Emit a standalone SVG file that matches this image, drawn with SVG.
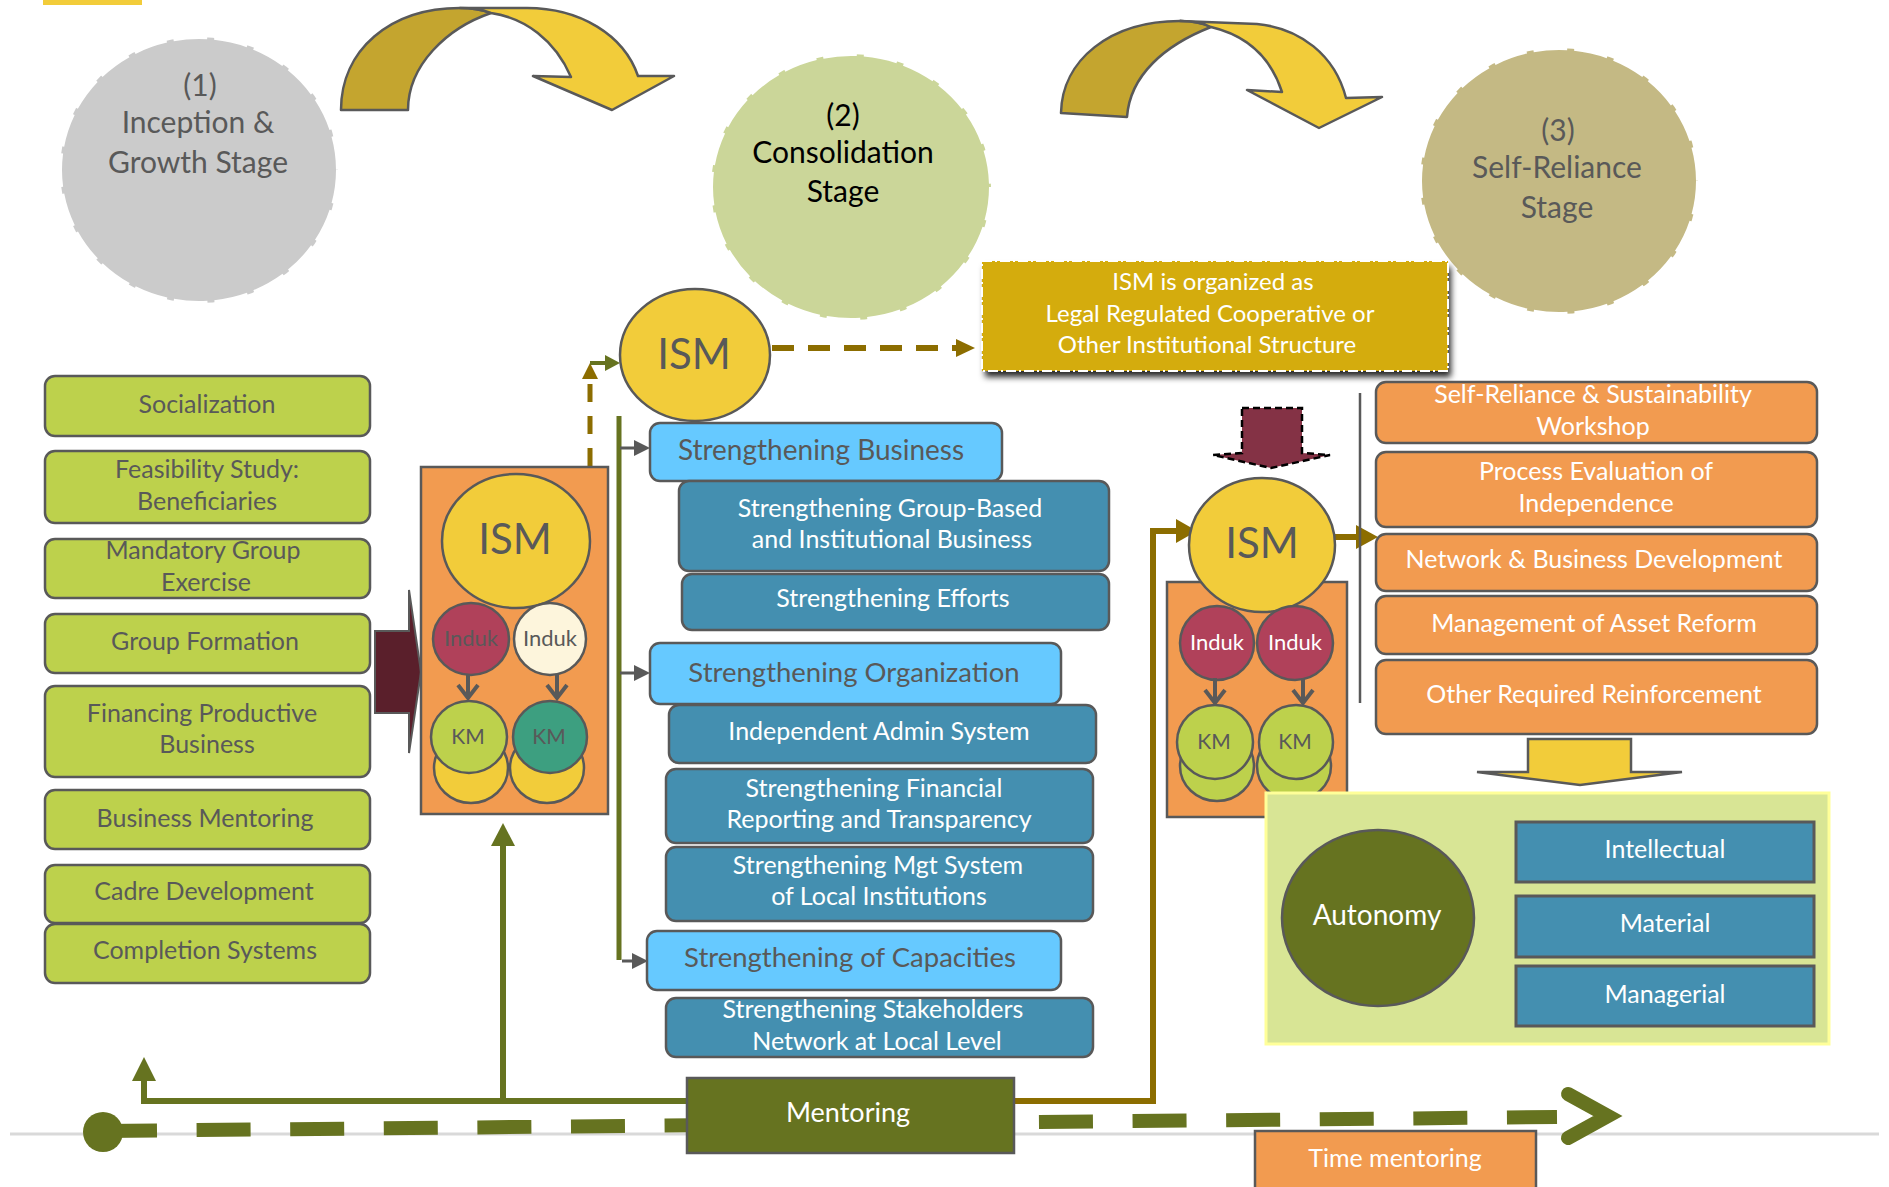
<svg xmlns="http://www.w3.org/2000/svg" width="1889" height="1187" viewBox="0 0 1889 1187">
<defs>
<style>
text{font-family:Lato,"Open Sans","Liberation Sans",sans-serif;text-anchor:middle}
.g{fill:#595959}.w{fill:#fff}.k{fill:#000}
.bx{stroke:#595959;stroke-width:2.5}
.lg{fill:#bdd14c}.db{fill:#448fb0}.lb{fill:#66c9ff}.or{fill:#f29b50}.ye{fill:#f2cc3a}.rs{fill:#b0415a}
.s25{font-size:25px}.s27{font-size:27px}.st{font-size:30px}
.stage{stroke:#fff;stroke-width:4;stroke-dasharray:34 7}
.ol{stroke:#667320;fill:none}
.br{stroke:#8c6d00;fill:none}
.gr{stroke:#595959;fill:none}
</style>
<filter id="sh" x="-10%" y="-10%" width="125%" height="140%">
<feDropShadow dx="3" dy="6" stdDeviation="3" flood-color="#000" flood-opacity="0.85"/>
</filter>
</defs>
<rect width="1889" height="1187" fill="#fff"/>
<rect x="43" y="0" width="99" height="5" fill="#f2cc3a"/>

<!-- connectors -->
<g id="connectors">
<line x1="10" y1="1134" x2="1879" y2="1134" stroke="#d9d9d9" stroke-width="3"/>
<line x1="103" y1="1131" x2="1557" y2="1117" stroke="#667320" stroke-width="14" stroke-dasharray="54 39.6"/>
<polyline points="1568,1094 1608,1116 1568,1138" fill="none" stroke="#667320" stroke-width="14" stroke-linecap="round" stroke-linejoin="miter"/>
<ellipse cx="103" cy="1132" rx="20" ry="20" fill="#667320"/>
<path class="ol" d="M687,1101 H144 V1080" stroke-width="6"/>
<polygon points="132,1081 144,1057 156,1081" fill="#667320"/>
<path class="ol" d="M503,1101 V845" stroke-width="6"/>
<polygon points="491,846 503,823 515,846" fill="#667320"/>
<path class="br" d="M1000,1101 H1153 V531 H1178" stroke-width="6"/>
<polygon points="1176,519 1197,531 1176,543" fill="#8c6d00"/>
<path class="br" d="M1335,537 H1358" stroke-width="6"/>
<polygon points="1356,525 1378,537 1356,549" fill="#8c6d00"/>
<path class="br" d="M590,466 V378" stroke-width="5" stroke-dasharray="18 14"/>
<polygon points="582,379 590,363 598,379" fill="#8c6d00"/>
<path class="ol" d="M590,363 H607" stroke-width="4"/>
<polygon points="605,355 620,363 605,371" fill="#667320"/>
<path class="br" d="M772,348 H958" stroke-width="6" stroke-dasharray="22 14"/>
<polygon points="956,339 975,348 956,357" fill="#8c6d00"/>
<path class="ol" d="M619,416 V960" stroke-width="5"/>
<path class="gr" d="M620,448 H636 M620,673 H636 M622,961 H634" stroke-width="3"/>
<polygon points="634,440 650,448 634,456" fill="#595959"/>
<polygon points="634,665 650,673 634,681" fill="#595959"/>
<polygon points="632,953 648,961 632,969" fill="#595959"/>
<path class="gr" d="M1360,393 V703" stroke-width="2.5"/>
<path class="gr" d="M1495,842 H1479 V1021 H1495 M1479,924 H1495" stroke-width="3"/>
<polygon points="1493,834 1511,842 1493,850" fill="#595959"/>
<polygon points="1493,916 1511,924 1493,932" fill="#595959"/>
<polygon points="1493,1012 1511,1020 1493,1028" fill="#595959"/>
</g>

<!-- curved arrows -->
<g id="curve1" stroke="#595959" stroke-width="2.5" stroke-linejoin="round">
<path d="M341,110 C341,50 390,8 460,8 C472,8 483,10 491,13 C447,28 408,65 408,110 Z" fill="#c4a52f"/>
<path d="M460,8 L527,8 C580,8 624,35 638,76 L674,76 L612,110 L533,76 L571,77 C555,40 525,18 491,13 C483,10 472,8 460,8 Z" fill="#f2cc3a"/>
</g>
<g id="curve2" stroke="#595959" stroke-width="2.5" stroke-linejoin="round">
<path d="M1061,113 C1062,60 1110,21 1180,21 C1193,21 1203,23 1211,27 C1165,45 1130,75 1127,117 Z" fill="#c4a52f"/>
<path d="M1180,21 L1257,24 C1300,28 1335,55 1346,98 L1382,97 L1319,128 L1247,90 L1282,92 C1270,55 1245,35 1211,27 C1203,23 1193,21 1180,21 Z" fill="#f2cc3a"/>
</g>

<!-- stage circles -->
<g id="stage1">
<ellipse cx="199" cy="170" rx="139" ry="133" fill="#cbcbcb" class="stage"/>
<text x="200" y="96" class="g st">(1)</text>
<text x="198" y="133" class="g st">Inception &amp;</text>
<text x="198" y="173" class="g st">Growth Stage</text>
</g>
<g id="stage2">
<ellipse cx="851" cy="187" rx="140" ry="133" fill="#cbd699" class="stage"/>
<text x="843" y="126" class="k st">(2)</text>
<text x="843" y="163" class="k st">Consolidation</text>
<text x="843" y="202" class="k st">Stage</text>
</g>
<g id="stage3">
<ellipse cx="1559" cy="181" rx="139" ry="133" fill="#c4b984" class="stage"/>
<text x="1558" y="141" class="g st">(3)</text>
<text x="1557" y="178" class="g st">Self-Reliance</text>
<text x="1557" y="218" class="g st">Stage</text>
</g>

<!-- legal box -->
<g id="legal">
<rect x="982" y="261" width="466" height="110" fill="#d4ac0d" filter="url(#sh)"/>
<rect x="982" y="261" width="466" height="110" fill="none" stroke="#fff" stroke-width="2" stroke-dasharray="10 3 2 3"/>
<text x="1213" y="290" class="w" font-size="24">ISM is organized as</text>
<text x="1210" y="322" class="w" font-size="24">Legal Regulated  Cooperative or</text>
<text x="1207" y="353" class="w" font-size="24">Other Institutional Structure</text>
</g>

<g id="ism2">
<ellipse cx="695" cy="355" rx="75" ry="66" class="ye bx"/>
<text x="694" y="369" class="g" font-size="42">ISM</text>
</g>

<g id="left-steps" class="s25">
<g id="socialization"><rect x="45" y="376" width="325" height="60" rx="10" class="lg bx"/><text x="207" y="413" class="g">Socialization</text></g>
<g id="feasibility"><rect x="45" y="451" width="325" height="72" rx="10" class="lg bx"/><text x="207" y="478" class="g">Feasibility  Study:</text><text x="207" y="510" class="g">Beneficiaries</text></g>
<g id="mandatory"><rect x="45" y="539" width="325" height="59" rx="10" class="lg bx"/><text x="203" y="559" class="g">Mandatory Group</text><text x="206" y="591" class="g">Exercise</text></g>
<g id="formation"><rect x="45" y="614" width="325" height="59" rx="10" class="lg bx"/><text x="205" y="650" class="g">Group Formation</text></g>
<g id="financing"><rect x="45" y="686" width="325" height="91" rx="10" class="lg bx"/><text x="202" y="722" class="g">Financing  Productive</text><text x="207" y="753" class="g">Business</text></g>
<g id="bmentoring"><rect x="45" y="790" width="325" height="59" rx="10" class="lg bx"/><text x="205" y="827" class="g">Business  Mentoring</text></g>
<g id="cadre"><rect x="45" y="865" width="325" height="58" rx="10" class="lg bx"/><text x="204" y="900" class="g">Cadre Development</text></g>
<g id="completion"><rect x="45" y="924" width="325" height="59" rx="10" class="lg bx"/><text x="205" y="959" class="g">Completion Systems</text></g>
</g>

<g id="maroon-arrow">
<path d="M375,631 L409,631 L409,590 L421,672 L409,753 L409,713 L375,713 Z" fill="#5a1f2b" stroke="#595959" stroke-width="2"/>
</g>

<g id="ism1">
<rect x="421" y="467" width="187" height="347" class="or bx"/>
<ellipse cx="516" cy="541" rx="74" ry="67" class="ye bx"/>
<text x="515" y="554" class="g" font-size="42">ISM</text>
<ellipse cx="471" cy="768" rx="37" ry="35" class="ye bx"/>
<ellipse cx="547" cy="768" rx="37" ry="35" class="ye bx"/>
<ellipse cx="471" cy="639" rx="38" ry="36" class="rs bx"/>
<text x="471" y="646" class="g" font-size="22">Induk</text>
<ellipse cx="550" cy="639" rx="36" ry="36" fill="#fdf5dc" class="bx"/>
<text x="550" y="646" class="g" font-size="22">Induk</text>
<path class="gr" d="M468,675 V697 M458,685 L468,698 L478,685 M557,675 V697 M547,685 L557,698 L567,685" stroke-width="4"/>
<ellipse cx="469" cy="737" rx="38" ry="36" class="lg bx"/>
<text x="468" y="744" class="g" font-size="21">KM</text>
<ellipse cx="550" cy="737" rx="37" ry="36" fill="#3d9f80" class="bx"/>
<text x="549" y="744" class="g" font-size="21">KM</text>
</g>

<g id="mid" class="s25">
<g id="sb"><rect x="650" y="423" width="352" height="58" rx="10" class="lb bx"/><text x="821" y="460" class="g" font-size="28">Strengthening Business</text></g>
<g id="sgb"><rect x="679" y="481" width="430" height="90" rx="10" class="db bx"/><text x="890" y="517" class="w">Strengthening  Group-Based</text><text x="892" y="548" class="w">and Institutional Business</text></g>
<g id="se"><rect x="682" y="574" width="427" height="56" rx="10" class="db bx"/><text x="893" y="607" class="w">Strengthening  Efforts</text></g>
<g id="so"><rect x="650" y="643" width="411" height="61" rx="10" class="lb bx"/><text x="854" y="682" class="g" font-size="27.5">Strengthening Organization</text></g>
<g id="ias"><rect x="669" y="705" width="427" height="58" rx="10" class="db bx"/><text x="879" y="740" class="w">Independent  Admin System</text></g>
<g id="sfr"><rect x="666" y="769" width="427" height="74" rx="10" class="db bx"/><text x="874" y="797" class="w">Strengthening  Financial</text><text x="879" y="828" class="w">Reporting  and Transparency</text></g>
<g id="smg"><rect x="666" y="847" width="427" height="74" rx="10" class="db bx"/><text x="878" y="874" class="w">Strengthening  Mgt System</text><text x="879" y="905" class="w">of Local Institutions</text></g>
<g id="sc"><rect x="647" y="931" width="414" height="59" rx="10" class="lb bx"/><text x="850" y="967" class="g" font-size="27.5">Strengthening of Capacities</text></g>
<g id="ssn"><rect x="666" y="998" width="427" height="59" rx="10" class="db bx"/><text x="873" y="1018" class="w">Strengthening  Stakeholders</text><text x="877" y="1050" class="w">Network at Local Level</text></g>
</g>

<g id="mentoring">
<rect x="687" y="1078" width="327" height="75" fill="#667320" class="bx"/>
<text x="848" y="1122" class="w" font-size="27">Mentoring</text>
</g>

<g id="maroon-down">
<path d="M1242,408 L1302,408 L1302,453 L1330,455 L1271,468 L1213,455 L1242,453 Z" fill="#843245" stroke="#000" stroke-width="2.5" stroke-dasharray="7 4"/>
</g>

<g id="ism3">
<rect x="1167" y="582" width="180" height="235" class="or bx"/>
<ellipse cx="1262" cy="545" rx="73" ry="67" class="ye bx"/>
<text x="1262" y="558" class="g" font-size="42">ISM</text>
<ellipse cx="1217" cy="766" rx="37" ry="35" class="lg bx"/>
<ellipse cx="1294" cy="766" rx="37" ry="35" class="lg bx"/>
<ellipse cx="1217" cy="643" rx="37" ry="37" class="rs bx"/>
<text x="1217" y="650" class="w" font-size="22">Induk</text>
<ellipse cx="1295" cy="643" rx="38" ry="37" class="rs bx"/>
<text x="1295" y="650" class="w" font-size="22">Induk</text>
<path class="gr" d="M1215,678 V702 M1205,690 L1215,703 L1225,690 M1303,678 V702 M1293,690 L1303,703 L1313,690" stroke-width="4"/>
<ellipse cx="1215" cy="742" rx="38" ry="37" class="lg bx"/>
<text x="1214" y="749" class="g" font-size="21">KM</text>
<ellipse cx="1296" cy="742" rx="37" ry="37" class="lg bx"/>
<text x="1295" y="749" class="g" font-size="21">KM</text>
</g>

<g id="right-list" class="s25">
<g id="srw"><rect x="1376" y="382" width="441" height="61" rx="10" class="or bx"/><text x="1593" y="403" class="w">Self-Reliance  &amp; Sustainability</text><text x="1593" y="435" class="w">Workshop</text></g>
<g id="pei"><rect x="1376" y="452" width="441" height="75" rx="10" class="or bx"/><text x="1596" y="480" class="w">Process Evaluation of</text><text x="1596" y="512" class="w">Independence</text></g>
<g id="nbd"><rect x="1376" y="534" width="441" height="57" rx="10" class="or bx"/><text x="1594" y="568" class="w">Network &amp; Business  Development</text></g>
<g id="mar"><rect x="1376" y="596" width="441" height="58" rx="10" class="or bx"/><text x="1594" y="632" class="w">Management  of Asset Reform</text></g>
<g id="orr"><rect x="1376" y="660" width="441" height="74" rx="10" class="or bx"/><text x="1594" y="703" class="w">Other Required  Reinforcement</text></g>
</g>

<g id="down-arrow">
<path d="M1528,739 L1631,739 L1631,772 L1682,772 L1580,785 L1477,772 L1528,772 Z" class="ye" stroke="#595959" stroke-width="2.5"/>
</g>

<g id="autonomy-panel">
<rect x="1266" y="793" width="563" height="251" fill="#d8e595" stroke="#ffff99" stroke-width="3"/>
</g>
<g id="autonomy">
<ellipse cx="1378" cy="918" rx="96" ry="88" fill="#667320" class="bx"/>
<text x="1377" y="925" class="w" font-size="28">Autonomy</text>
</g>
<g id="intellectual"><rect x="1516" y="822" width="298" height="60" class="db" stroke="#595959" stroke-width="3"/><text x="1665" y="858" class="w s25">Intellectual</text></g>
<g id="material"><rect x="1516" y="896" width="298" height="61" class="db" stroke="#595959" stroke-width="3"/><text x="1665" y="932" class="w s25">Material</text></g>
<g id="managerial"><rect x="1516" y="966" width="298" height="60" class="db" stroke="#595959" stroke-width="3"/><text x="1665" y="1003" class="w s25">Managerial</text></g>

<g id="time-mentoring">
<rect x="1255" y="1131" width="281" height="70" class="or bx"/>
<text x="1395" y="1167" class="w s25">Time mentoring</text>
</g>
</svg>
